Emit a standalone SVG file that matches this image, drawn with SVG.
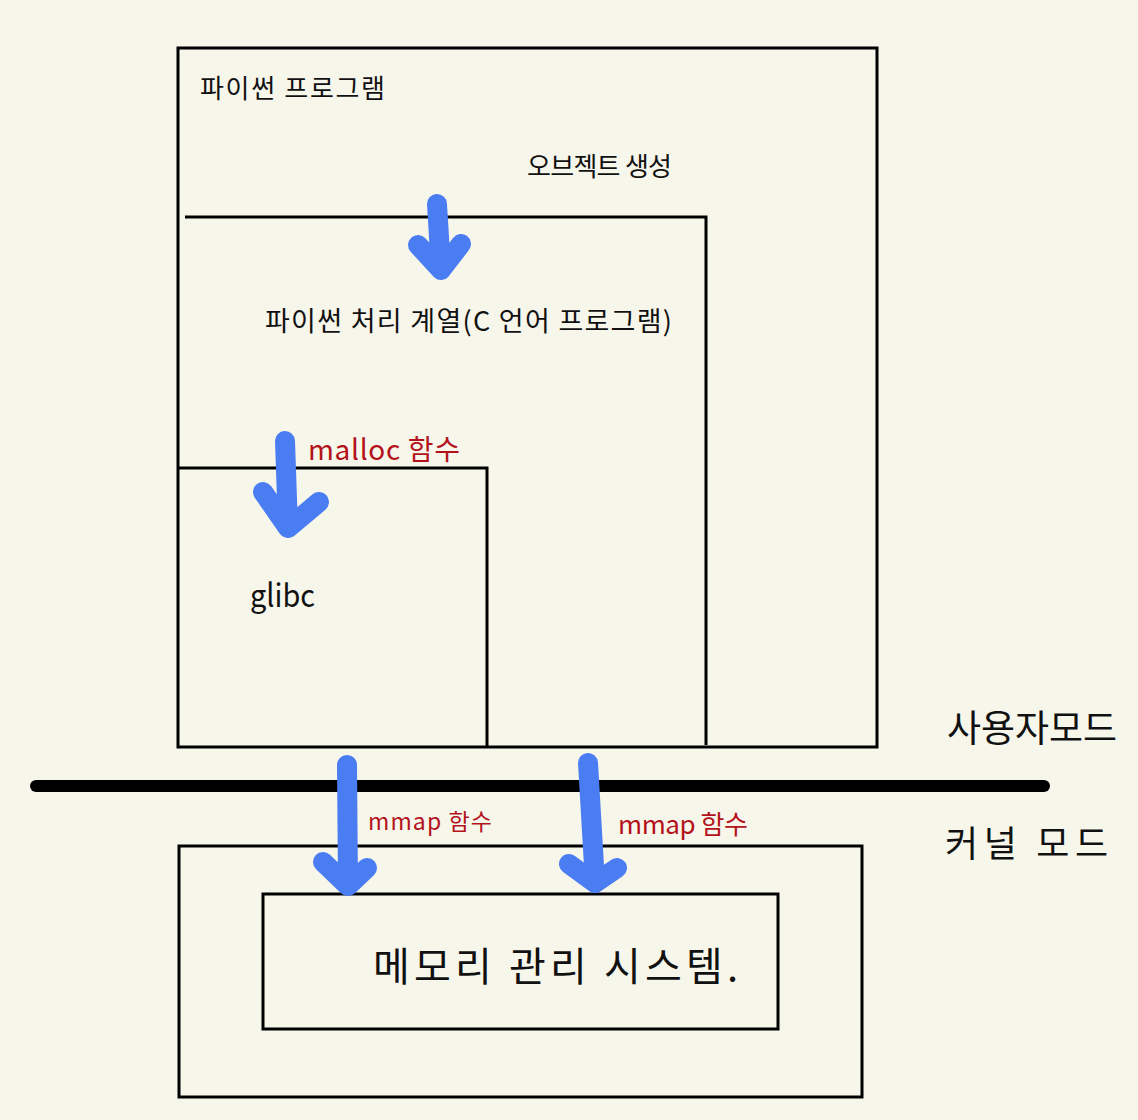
<svg xmlns="http://www.w3.org/2000/svg" width="1138" height="1120" viewBox="0 0 1138 1120">
<defs>
<style>
.bx{fill:none;stroke:#000;stroke-width:3;stroke-linejoin:miter}
.ar{fill:none;stroke:#4a7df2;stroke-width:20;stroke-linecap:round;stroke-linejoin:round}
.t{font-family:"Noto Sans CJK KR","Noto Sans",sans-serif;fill:#111}
.r{font-family:"Noto Sans CJK KR","Noto Sans",sans-serif;fill:#b3121a}
</style>
</defs>
<rect width="1138" height="1120" fill="#f7f6eb"/>
<g id="python-program">
<rect class="bx" x="178" y="48" width="699" height="699"/>
<text class="t" x="200" y="98" font-size="26" textLength="185" lengthAdjust="spacing">파이썬 프로그램</text>
<text class="t" x="527" y="176" font-size="26" textLength="145" lengthAdjust="spacing">오브젝트 생성</text>
</g>
<g id="c-program">
<polyline class="bx" points="185,217 706,217 706,745"/>
<text class="t" x="265" y="331" font-size="27" textLength="407" lengthAdjust="spacing">파이썬 처리 계열(C 언어 프로그램)</text>
</g>
<g id="glibc">
<polyline class="bx" points="177,468 487,468 487,747"/>
<text class="t" x="250" y="607" font-size="32" textLength="65" lengthAdjust="spacingAndGlyphs">glibc</text>
</g>
<g id="kernel">
<rect class="bx" x="179" y="846" width="683" height="251"/>
</g>
<g id="memory-system">
<rect class="bx" x="263" y="894" width="515" height="135"/>
<text class="t" x="373" y="981" font-size="40" textLength="365" lengthAdjust="spacing">메모리 관리 시스템.</text>
</g>
<g id="mode-labels">
<line x1="36" y1="786" x2="1044" y2="786" stroke="#000" stroke-width="12" stroke-linecap="round"/>
<text class="t" x="947" y="742" font-size="37" textLength="170" lengthAdjust="spacing">사용자모드</text>
<text class="t" x="945" y="857" font-size="36" textLength="163" lengthAdjust="spacing">커널 모드</text>
</g>
<g id="connectors">
<path class="ar" d="M437,204 L441,270 M418,245 L441,270 L461,244"/>
<path class="ar" d="M285,441 L288,528 M263,492 L288,528 L319,502"/>
<path class="ar" d="M347,765 L348,886 M323,862 L348,886 L367,868"/>
<path class="ar" d="M588,763 L595,883 M569,864 L595,883 L617,868"/>
<text class="r" x="308" y="460" font-size="28" textLength="152" lengthAdjust="spacing">malloc 함수</text>
<text class="r" x="368" y="830" font-size="23" textLength="124" lengthAdjust="spacing">mmap 함수</text>
<text class="r" x="618" y="834" font-size="26" textLength="130" lengthAdjust="spacing">mmap 함수</text>
</g>
</svg>
